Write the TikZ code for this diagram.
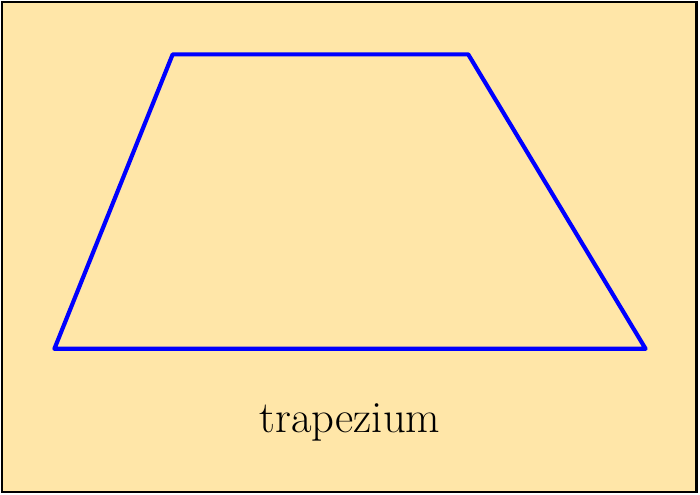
\documentclass[tikz,border=0pt]{standalone}
\usepackage{tikz}
\usetikzlibrary{positioning}
\definecolor{paper}{RGB}{255,230,168}

\begin{document}
\begin{tikzpicture}[
    frame/.style={draw=black, fill=paper, line width=1pt},
    edge/.style={draw=blue, line width=2pt, line join=round, line cap=round},
    caption/.style={font=\fontsize{21.5}{25}\selectfont, text=black}
]
% Rand
\useasboundingbox (-0.92,-2.46) rectangle (10.92,5.9);

% Hintergrund
\draw[frame] (-0.88,-2.42) rectangle (10.86,5.86);

% Ecken
\coordinate (A) at (0,0);
\coordinate (B) at (10,0);
\coordinate (C) at (7,4.98);
\coordinate (D) at (2,4.98);

% Trapez
\draw[edge] (A) -- (B) -- (C) -- (D) -- cycle;

% Beschriftung
\node[caption] (label) at (5,-1.25) {trapezium};
\end{tikzpicture}
\end{document}
